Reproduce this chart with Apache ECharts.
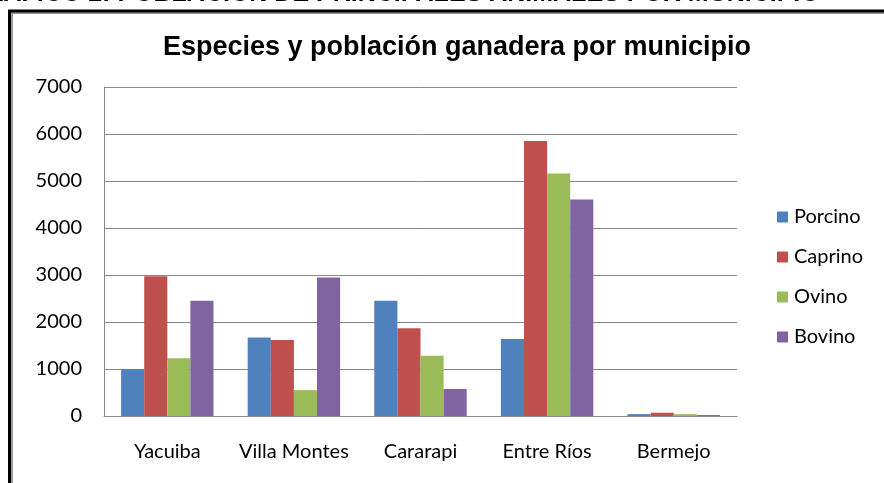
<!DOCTYPE html>
<html>
<head>
<meta charset="utf-8">
<script src="https://cdn.jsdelivr.net/npm/echarts@6/dist/echarts.min.js"></script>
<style>
  html, body { margin: 0; padding: 0; background: #fff; }
  #grafico { width: 884px; height: 483px; }
</style>
</head>
<body>
<div id="grafico"></div>
<script>
// datos
const municipios = ['Yacuiba', 'Villa Montes', 'Cararapi', 'Entre Ríos', 'Bermejo'];
const porcino = [1000, 1670, 2450, 1640, 40];
const caprino = [2975, 1615, 1865, 5850, 70];
const ovino = [1230, 550, 1280, 5160, 40];
const bovino = [2450, 2945, 575, 4605, 20];

var dom = document.getElementById('grafico');
var myChart = echarts.init(dom, null, { renderer: 'canvas' });

var option;

function serie(name, data, color) {
  return {
    name: name,
    type: 'bar',
    data: data,
    barGap: 0,
    barCategoryGap: '27%',
    itemStyle: { color: color },
  };
}

option = {
  backgroundColor: '#fff',
  animation: false,
  title: {
    text: 'Especies y población ganadera por municipio',
    left: 452,
    textAlign: 'center',
    top: 29,
    textStyle: {
      fontFamily: 'Liberation Sans',
      fontSize: 27,
      fontWeight: 'bold',
      color: '#000',
    },
  },
  graphic: [
    {
      type: 'text',
      left: -34,
      top: -18,
      style: {
        text: 'GRÁFICO 2: POBLACIÓN DE PRINCIPALES ANIMALES POR MUNICIPIO',
        font: 'bold 25px "Liberation Sans"',
        fill: '#000',
      },
    },
    {
      type: 'rect',
      shape: { x: 12, y: 13, width: 900, height: 500 },
      style: { fill: 'none', stroke: '#999', lineWidth: 2 },
      silent: true,
    },
    {
      type: 'rect',
      shape: { x: 9.5, y: 11, width: 900, height: 500 },
      style: { fill: 'none', stroke: '#000', lineWidth: 3 },
      silent: true,
    },
  ],
  legend: {
    orient: 'vertical',
    left: 772,
    top: 202,
    itemWidth: 11,
    itemHeight: 11,
    itemGap: 20,
    icon: 'rect',
    textStyle: {
      fontFamily: 'Lato',
      fontSize: 20,
      color: '#000',
      padding: [0, 0, 0, 1],
    },
    data: ['Porcino', 'Caprino', 'Ovino', 'Bovino'],
  },
  grid: {
    left: 104,
    top: 87,
    width: 633,
    height: 329,
  },
  xAxis: {
    type: 'category',
    data: municipios,
    axisLine: { lineStyle: { color: '#888', width: 1 } },
    axisTick: { show: false },
    axisLabel: {
      interval: 0,
      fontFamily: 'Lato',
      fontSize: 20,
      color: '#000',
      margin: 26,
    },
  },
  yAxis: {
    type: 'value',
    min: 0,
    max: 7000,
    interval: 1000,
    axisLine: { show: true, lineStyle: { color: '#888', width: 1 } },
    axisTick: { show: false },
    splitLine: { lineStyle: { color: '#888', width: 1 } },
    axisLabel: {
      fontFamily: 'Lato',
      fontSize: 20,
      color: '#000',
      margin: 22,
      formatter: function (v) { return String(v); },
    },
  },
  series: [
    serie('Porcino', porcino, '#4F81BD'),
    serie('Caprino', caprino, '#C0504D'),
    serie('Ovino', ovino, '#9BBB59'),
    serie('Bovino', bovino, '#8064A2'),
  ],
};

if (option && typeof option === 'object') {
  myChart.setOption(option);
}

window.addEventListener('resize', myChart.resize);
</script>
</body>
</html>
